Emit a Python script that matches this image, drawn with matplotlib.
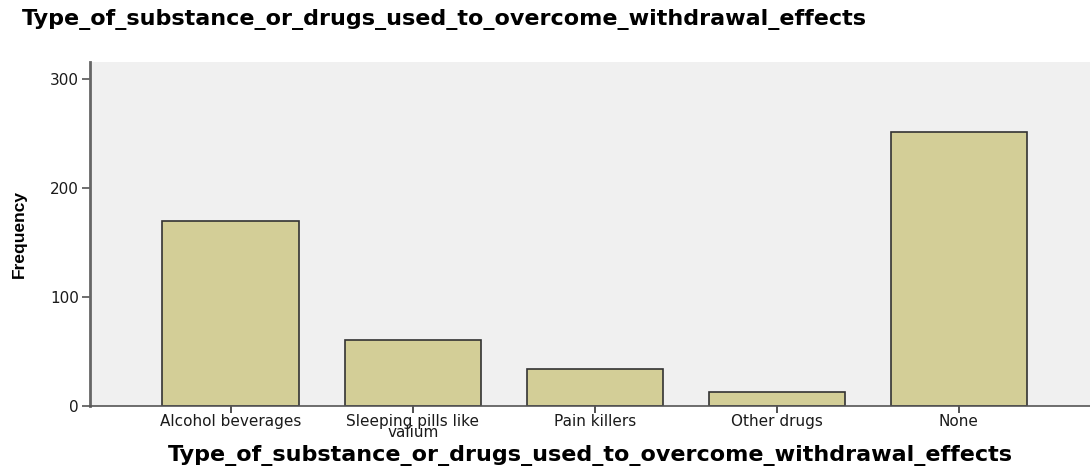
import numpy as np
import matplotlib.pyplot as plt
from matplotlib import font_manager

categories = ["Alcohol beverages", "Sleeping pills like\nvalium", "Pain killers",
              "Other drugs", "None"]
counts = [170, 61, 34, 13, 251]

title = "Type_of_substance_or_drugs_used_to_overcome_withdrawal_effects"

names = {f.name for f in font_manager.fontManager.ttflist}
narrow = "Liberation Sans Narrow" if "Liberation Sans Narrow" in names else "Liberation Sans"

plt.rcParams['font.family'] = ['DejaVu Sans']

fig = plt.figure(figsize=(10.9, 4.67), dpi=100)
ax = fig.add_axes([90/1090, 1 - 406/467, 1 - 90/1090, (406 - 62)/467])
ax.set_facecolor("#f0f0f0")

x = np.arange(len(categories))
ax.bar(x, counts, width=0.75, color="#d3ce97", edgecolor="#333333", linewidth=1.2, zorder=2)

ax.set_xlim(-0.773, 4.72)
ax.set_ylim(0, 315.6)
ax.set_yticks([0, 100, 200, 300])
ax.set_xticks(x)
ax.set_xticklabels(categories, fontsize=11, linespacing=0.68)
ax.tick_params(axis='y', labelsize=11, length=6, width=1.2, color="#555555", pad=2,
               labelcolor="#1a1a1a")
ax.tick_params(axis='x', length=5, width=1.2, color="#333333", pad=1, labelcolor="#1a1a1a")

for s in ["top", "right"]:
    ax.spines[s].set_visible(False)
ax.spines["left"].set_color("#666666")
ax.spines["left"].set_linewidth(2)
ax.spines["bottom"].set_color("#555555")
ax.spines["bottom"].set_linewidth(1.2)

ax.set_ylabel("Frequency", fontsize=12.5, fontweight="bold", family=narrow)
ax.yaxis.set_label_coords(-0.063, 0.5)
ax.set_xlabel(title, fontsize=16, fontweight="bold", va="center")
ax.xaxis.set_label_coords(0.5, (406 - 456) / 344)

fig.text(22/1090, 1 - 20/467, title, fontsize=16, fontweight="bold", ha="left", va="center")

fig.savefig("out.png", dpi=100)
